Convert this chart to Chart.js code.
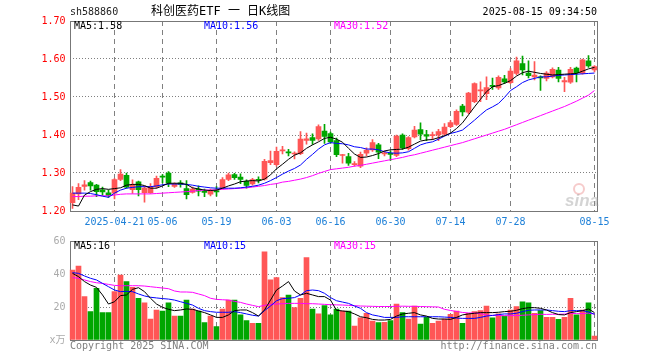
<!DOCTYPE html>
<html>
<head>
<meta charset="utf-8">
<script src="https://cdn.jsdelivr.net/npm/chart.js@4.4.1/dist/chart.umd.min.js"></script>
<style>
html, body { margin: 0; padding: 0; background: #fff; }
#wrap { position: relative; width: 660px; height: 360px; }
#k { position: absolute; left: 0; top: 0; }
#v { position: absolute; left: 0; top: 230px; }
</style>
</head>
<body>
<div id="wrap">
	<canvas id="k" width="660" height="230"></canvas>
	<canvas id="v" width="660" height="130"></canvas>
</div>
<script>
// trading days shown (2025)
var dates = ['04-10','04-11','04-14','04-15','04-16','04-17','04-18','04-21','04-22','04-23','04-24','04-25','04-28','04-29','04-30',
	'05-06','05-07','05-08','05-09','05-12','05-13','05-14','05-15','05-16','05-19','05-20','05-21','05-22','05-23','05-26','05-27','05-28','05-29','05-30',
	'06-03','06-04','06-05','06-06','06-09','06-10','06-11','06-12','06-13','06-16','06-17','06-18','06-19','06-20','06-23','06-24','06-25','06-26','06-27','06-30',
	'07-01','07-02','07-03','07-04','07-07','07-08','07-09','07-10','07-11','07-14','07-15','07-16','07-17','07-18','07-21','07-22','07-23','07-24','07-25','07-28','07-29','07-30','07-31',
	'08-01','08-04','08-05','08-06','08-07','08-08','08-11','08-12','08-13','08-14','08-15'];

var tickDates = ['04-21','05-06','05-19','06-03','06-16','06-30','07-14','07-28','08-15'];
var tickText = ['2025-04-21','05-06','05-19','06-03','06-16','06-30','07-14','07-28','08-15'];

var opens = [1.222,1.245,1.265,1.275,1.268,1.256,1.248,1.247,1.283,1.294,
	1.256,1.277,1.248,1.248,1.264,1.291,1.300,1.265,1.274,1.259,
	1.249,1.258,1.252,1.244,1.254,1.260,1.283,1.296,1.289,1.278,
	1.271,1.283,1.284,1.327,1.322,1.358,1.356,1.350,1.351,1.386,
	1.393,1.390,1.410,1.404,1.385,1.346,1.343,1.322,1.318,1.352,
	1.361,1.374,1.350,1.352,1.346,1.400,1.364,1.395,1.414,1.401,
	1.398,1.400,1.402,1.422,1.428,1.476,1.460,1.488,1.516,1.509,
	1.531,1.524,1.548,1.538,1.562,1.588,1.563,1.553,1.553,1.549,
	1.553,1.571,1.540,1.539,1.576,1.563,1.595,1.571];
var highs = [1.264,1.272,1.280,1.279,1.270,1.263,1.255,1.285,1.309,1.300,
	1.282,1.279,1.265,1.272,1.292,1.296,1.304,1.274,1.280,1.280,
	1.263,1.266,1.258,1.258,1.264,1.288,1.300,1.299,1.298,1.282,
	1.286,1.290,1.336,1.358,1.368,1.370,1.362,1.356,1.409,1.405,
	1.403,1.427,1.428,1.408,1.392,1.349,1.352,1.330,1.355,1.366,
	1.388,1.378,1.358,1.357,1.400,1.403,1.396,1.423,1.432,1.412,
	1.408,1.415,1.430,1.438,1.466,1.481,1.512,1.537,1.540,1.553,
	1.550,1.556,1.557,1.575,1.605,1.608,1.595,1.593,1.556,1.567,
	1.577,1.578,1.552,1.578,1.579,1.600,1.609,1.583];
var lows = [1.207,1.230,1.255,1.255,1.238,1.241,1.236,1.232,1.280,1.260,
	1.246,1.240,1.223,1.246,1.260,1.274,1.264,1.262,1.263,1.232,
	1.247,1.240,1.238,1.240,1.239,1.258,1.280,1.283,1.272,1.260,
	1.268,1.274,1.281,1.322,1.318,1.350,1.345,1.337,1.348,1.376,
	1.375,1.386,1.378,1.378,1.343,1.326,1.320,1.318,1.314,1.345,
	1.357,1.338,1.345,1.333,1.343,1.362,1.360,1.392,1.388,1.385,
	1.388,1.385,1.398,1.419,1.425,1.450,1.456,1.485,1.488,1.493,
	1.520,1.520,1.535,1.535,1.558,1.558,1.550,1.545,1.517,1.542,
	1.550,1.540,1.514,1.536,1.540,1.560,1.578,1.566];
var closes = [1.247,1.262,1.269,1.266,1.251,1.250,1.241,1.283,1.297,1.263,
	1.268,1.256,1.260,1.264,1.286,1.289,1.273,1.270,1.270,1.243,
	1.258,1.252,1.249,1.254,1.250,1.283,1.295,1.288,1.283,1.267,
	1.283,1.281,1.331,1.333,1.357,1.361,1.353,1.352,1.389,1.390,
	1.386,1.422,1.396,1.382,1.348,1.348,1.326,1.325,1.349,1.360,
	1.380,1.355,1.353,1.349,1.397,1.366,1.393,1.413,1.402,1.397,
	1.401,1.409,1.421,1.433,1.462,1.461,1.510,1.535,1.519,1.525,
	1.528,1.552,1.540,1.568,1.595,1.571,1.556,1.558,1.550,1.563,
	1.573,1.549,1.543,1.573,1.564,1.598,1.582,1.580];

// moving averages as drawn on the chart
var ma5 = [1.216,1.213,1.242,1.251,1.257,1.259,1.257,1.259,1.261,1.268,
	1.270,1.270,1.267,1.260,1.260,1.266,1.273,1.273,1.273,1.270,
	1.261,1.258,1.255,1.254,1.255,1.260,1.266,1.271,1.277,1.279,
	1.280,1.279,1.284,1.295,1.311,1.323,1.336,1.347,1.353,1.365,
	1.374,1.382,1.391,1.394,1.389,1.381,1.365,1.350,1.341,1.342,
	1.346,1.351,1.358,1.361,1.362,1.363,1.368,1.376,1.384,1.387,
	1.388,1.393,1.398,1.405,1.417,1.432,1.453,1.474,1.494,1.514,
	1.527,1.530,1.536,1.543,1.555,1.564,1.568,1.565,1.562,1.560,
	1.558,1.559,1.560,1.561,1.562,1.568,1.574,1.578];
var ma10 = [1.247,1.247,1.247,1.246,1.243,1.239,1.236,1.247,1.255,1.260,
	1.262,1.264,1.264,1.264,1.266,1.269,1.271,1.271,1.271,1.270,
	1.268,1.265,1.263,1.261,1.260,1.260,1.260,1.260,1.261,1.263,
	1.265,1.268,1.273,1.280,1.288,1.297,1.305,1.312,1.321,1.336,
	1.349,1.363,1.374,1.380,1.378,1.377,1.374,1.369,1.367,1.363,
	1.363,1.361,1.356,1.353,1.352,1.353,1.356,1.365,1.374,1.379,
	1.382,1.389,1.397,1.404,1.408,1.413,1.426,1.439,1.453,1.466,
	1.474,1.483,1.499,1.517,1.527,1.538,1.545,1.549,1.553,1.553,
	1.555,1.557,1.558,1.559,1.560,1.561,1.562,1.563];
var ma30 = [1.238,1.238,1.239,1.239,1.240,1.240,1.240,1.242,1.244,1.245,
	1.245,1.245,1.245,1.245,1.246,1.247,1.248,1.249,1.250,1.251,
	1.252,1.254,1.255,1.255,1.256,1.257,1.258,1.259,1.260,1.261,
	1.263,1.265,1.267,1.270,1.272,1.276,1.278,1.281,1.284,1.288,
	1.293,1.299,1.304,1.309,1.311,1.313,1.315,1.318,1.320,1.323,
	1.326,1.329,1.332,1.335,1.338,1.341,1.345,1.348,1.352,1.356,
	1.360,1.364,1.368,1.372,1.376,1.380,1.385,1.390,1.395,1.400,
	1.405,1.410,1.415,1.421,1.427,1.433,1.439,1.445,1.451,1.457,
	1.463,1.469,1.475,1.482,1.489,1.497,1.505,1.517];

// volume, 10k lots
var volumes = [42.4,44.8,26.3,17.2,31.3,16.6,16.6,29.3,39.4,35.4,
	31.9,25.3,22.6,12.7,18.2,17.6,22.6,14.5,14.5,24.2,
	18.8,17.6,10.5,14.5,8.1,18.8,24.2,24.2,15.2,11.7,
	10.1,10.1,53.5,36.4,37.8,25.7,27.3,19.6,25.3,49.9,
	18.8,15.8,20.8,15.2,18.8,17.6,17.6,8.5,13.5,16.2,
	11.5,10.5,10.7,11.7,21.8,16.6,12.7,20.6,9.7,13.7,
	10.1,11.5,12.7,15.6,17.6,10.1,16.2,17.2,17.8,20.6,
	13.5,15.8,14.5,18.2,20.2,23.2,22.6,16.2,17.8,13.7,
	13.7,12.5,13.7,25.3,15.2,18.2,22.6,2.4];
var volMa5 = [40.4,38.4,35.4,33.3,31.9,27.3,21.8,23.2,26.9,27.3,
	30.7,31.7,29.3,25.3,21.8,19.8,18.6,17.8,18.2,18.8,
	18.6,17.6,16.6,15.2,13.7,13.7,15.2,17.8,18.2,18.2,
	16.6,14.5,18.2,24.2,30.3,32.7,35.4,29.7,27.3,28.3,
	27.3,26.3,26.3,24.2,18.0,17.6,17.2,15.8,14.1,13.5,
	12.5,12.1,12.1,12.5,14.5,15.8,16.2,16.6,15.2,14.5,
	13.1,12.7,12.7,12.5,13.7,15.2,15.8,16.2,16.6,16.6,
	16.6,16.8,17.2,17.4,18.0,19.0,19.6,19.6,19.2,18.2,
	16.6,15.4,15.2,16.6,17.2,17.8,18.8,16.6];
var volMa10 = [40.8,40.4,38.8,37.4,36.4,34.3,32.3,30.3,29.3,29.5,
	29.3,27.9,26.7,25.9,25.5,25.1,24.8,24.2,23.2,22.2,
	21.2,19.2,17.8,17.2,16.8,16.8,16.8,17.2,16.6,15.8,
	15.0,14.5,17.8,20.6,23.8,25.1,25.3,25.7,27.3,29.9,
	30.3,29.9,28.3,25.7,23.8,23.0,22.2,20.6,19.2,16.6,
	15.2,14.5,13.7,13.7,13.7,14.1,14.1,14.1,14.1,14.1,
	14.1,14.1,13.9,13.7,13.3,13.1,13.1,13.1,13.7,14.5,
	14.9,15.4,15.8,15.8,16.2,17.2,18.0,18.2,18.2,18.2,
	17.8,17.4,17.2,17.8,17.8,17.8,17.0,15.6];
var volMa30 = [37.8,37.4,36.4,35.4,34.7,34.3,33.7,33.1,32.9,32.9,
	32.9,32.9,32.7,32.3,31.9,31.5,31.1,29.7,29.1,29.1,
	28.9,27.9,26.9,25.3,24.6,24.4,24.2,23.4,22.8,21.8,
	21.0,20.2,21.0,21.6,21.8,22.0,22.2,22.2,22.2,22.0,
	22.0,21.8,21.6,21.4,21.3,21.2,21.0,20.8,20.6,20.5,
	20.4,20.3,20.3,20.3,20.4,20.5,20.4,20.4,20.3,20.2,
	20.1,20.0,18.6,17.9,17.3,16.7,16.4,16.3,16.0,15.1,
	14.9,14.9,14.7,14.8,14.8,15.0,15.2,15.4,15.6,15.5,
	15.6,15.6,15.7,16.2,16.0,16.0,16.3,15.7];

var RED = '#ff5656';
var GREEN = '#00a600';
var GRID = '#808080';
var MONO = "'DejaVu Sans Mono', 'Noto Sans CJK SC', monospace";

Chart.defaults.font.family = MONO;
Chart.defaults.font.size = 10;
Chart.defaults.animation = false;

var colors = closes.map(function (c, i) { return c >= opens[i] ? RED : GREEN; });
var wicks = lows.map(function (l, i) { return [l, highs[i]]; });
var bodies = opens.map(function (o, i) { return [o, closes[i]]; });
var last = dates.length - 1;

function lineSet(data, color) {
	return { type: 'line', data: data, borderColor: color, borderWidth: 1, pointRadius: 0, fill: false, tension: 0, order: 0 };
}

// grey frame around the plot area
var framePlugin = {
	id: 'frame',
	beforeDatasetsDraw: function (chart) {
		var a = chart.chartArea, ctx = chart.ctx;
		ctx.save();
		ctx.strokeStyle = '#777777';
		ctx.lineWidth = 1;
		ctx.setLineDash([]);
		ctx.strokeRect(Math.round(a.left) + 0.5, Math.round(a.top) + 0.5, Math.round(a.right) - Math.round(a.left) - 1, Math.round(a.bottom) - Math.round(a.top));
		ctx.restore();
	}
};

// header, legends, footer and the faint sina mark
function textPlugin(items, mark) {
	return {
		id: 'texts',
		afterDraw: function (chart) {
			var ctx = chart.ctx;
			ctx.save();
			if (mark) {
				ctx.strokeStyle = 'rgba(235,140,140,0.45)';
				ctx.lineWidth = 2;
				ctx.beginPath();
				ctx.arc(579, 189, 5, 0, Math.PI * 2);
				ctx.stroke();
				ctx.font = "italic bold 17px 'Liberation Sans', sans-serif";
				ctx.fillStyle = 'rgba(160,160,160,0.45)';
				ctx.textBaseline = 'alphabetic';
				ctx.textAlign = 'left';
				ctx.fillText('sina', 565, 206);
			}
			ctx.textBaseline = 'middle';
			items.forEach(function (t) {
				ctx.font = t.font || '10px ' + MONO;
				ctx.fillStyle = t.color;
				ctx.textAlign = t.align || 'left';
				ctx.fillText(t.text, t.x, t.y);
			});
			ctx.restore();
		}
	};
}

var xGridColor = function (c) {
	return tickDates.indexOf(dates[c.index]) >= 0 ? GRID : 'rgba(255,255,255,0)';
};

function xScale(showTicks, h) {
	return {
		grid: { offset: false, drawTicks: false, color: xGridColor },
		border: { display: false, dash: [5, 4] },
		ticks: {
			display: showTicks, autoSkip: false, maxRotation: 0, minRotation: 0, padding: 5, color: '#1e80d8',
			callback: function (v, i) {
				var k = tickDates.indexOf(dates[i]);
				return k >= 0 ? tickText[k] : '';
			}
		},
		afterFit: function (s) { s.height = h; }
	};
}

function yScale(min, max, step, color, fmt) {
	return {
		min: min,
		max: max,
		grid: { drawTicks: false, color: GRID },
		border: { display: false, dash: [1, 2] },
		ticks: { stepSize: step, color: color, padding: 4, callback: fmt },
		afterFit: function (s) { s.width = 69.5; }
	};
}

new Chart(document.getElementById('k'), {
	type: 'bar',
	data: {
		labels: dates,
		datasets: [
			lineSet(ma5, '#000000'),
			lineSet(ma10, '#0000ff'),
			lineSet(ma30, '#ff00ff'),
			{ data: wicks, backgroundColor: colors, barThickness: 1, grouped: false, minBarLength: 1, borderWidth: 0, order: 2 },
			{ data: bodies, backgroundColor: colors, barThickness: 5, grouped: false, minBarLength: 1, borderWidth: 0, order: 1 }
		]
	},
	options: {
		responsive: false,
		animation: false,
		layout: { padding: { top: 21, right: 62.5, left: 0, bottom: 0 } },
		plugins: { legend: { display: false }, tooltip: { enabled: false } },
		scales: {
			x: xScale(true, 19),
			y: yScale(1.2, 1.7, 0.1, '#ff0000', function (v) { return v.toFixed(2); })
		}
	},
	plugins: [framePlugin, textPlugin([
		{ text: 'sh588860', x: 70, y: 12, color: '#222' },
		{ text: '科创医药ETF 一 日K线图', x: 151, y: 12, color: '#000', font: "12px 'DejaVu Sans Mono', 'Noto Sans CJK SC'" },
		{ text: '2025-08-15 09:34:50', x: 597, y: 12, color: '#000', align: 'right' },
		{ text: 'MA5:' + ma5[last].toFixed(2), x: 74, y: 26, color: '#000000' },
		{ text: 'MA10:' + ma10[last].toFixed(2), x: 204, y: 26, color: '#0000ff' },
		{ text: 'MA30:' + ma30[last].toFixed(2), x: 334, y: 26, color: '#ff00ff' }
	], true)]
});

new Chart(document.getElementById('v'), {
	type: 'bar',
	data: {
		labels: dates,
		datasets: [
			lineSet(volMa5, '#000000'),
			lineSet(volMa10, '#0000ff'),
			lineSet(volMa30, '#ff00ff'),
			{ data: volumes, backgroundColor: colors, barThickness: 5, borderWidth: 0, order: 1 }
		]
	},
	options: {
		responsive: false,
		animation: false,
		layout: { padding: { top: 11, right: 62.5, left: 0, bottom: 0 } },
		plugins: { legend: { display: false }, tooltip: { enabled: false } },
		scales: {
			x: xScale(false, 20),
			y: yScale(0, 60, 20, '#aaaaaa', function (v) { return v === 0 ? 'x万' : v; })
		}
	},
	plugins: [framePlugin, textPlugin([
		{ text: 'MA5:' + Math.floor(volMa5[last]), x: 74, y: 16, color: '#000000' },
		{ text: 'MA10:' + Math.floor(volMa10[last]), x: 204, y: 16, color: '#0000ff' },
		{ text: 'MA30:' + Math.floor(volMa30[last]), x: 334, y: 16, color: '#ff00ff' },
		{ text: 'Copyright 2025 SINA.COM', x: 70, y: 116, color: '#808080' },
		{ text: 'http://finance.sina.com.cn', x: 597, y: 116, color: '#808080', align: 'right' }
	], false)]
});
</script>
</body>
</html>
